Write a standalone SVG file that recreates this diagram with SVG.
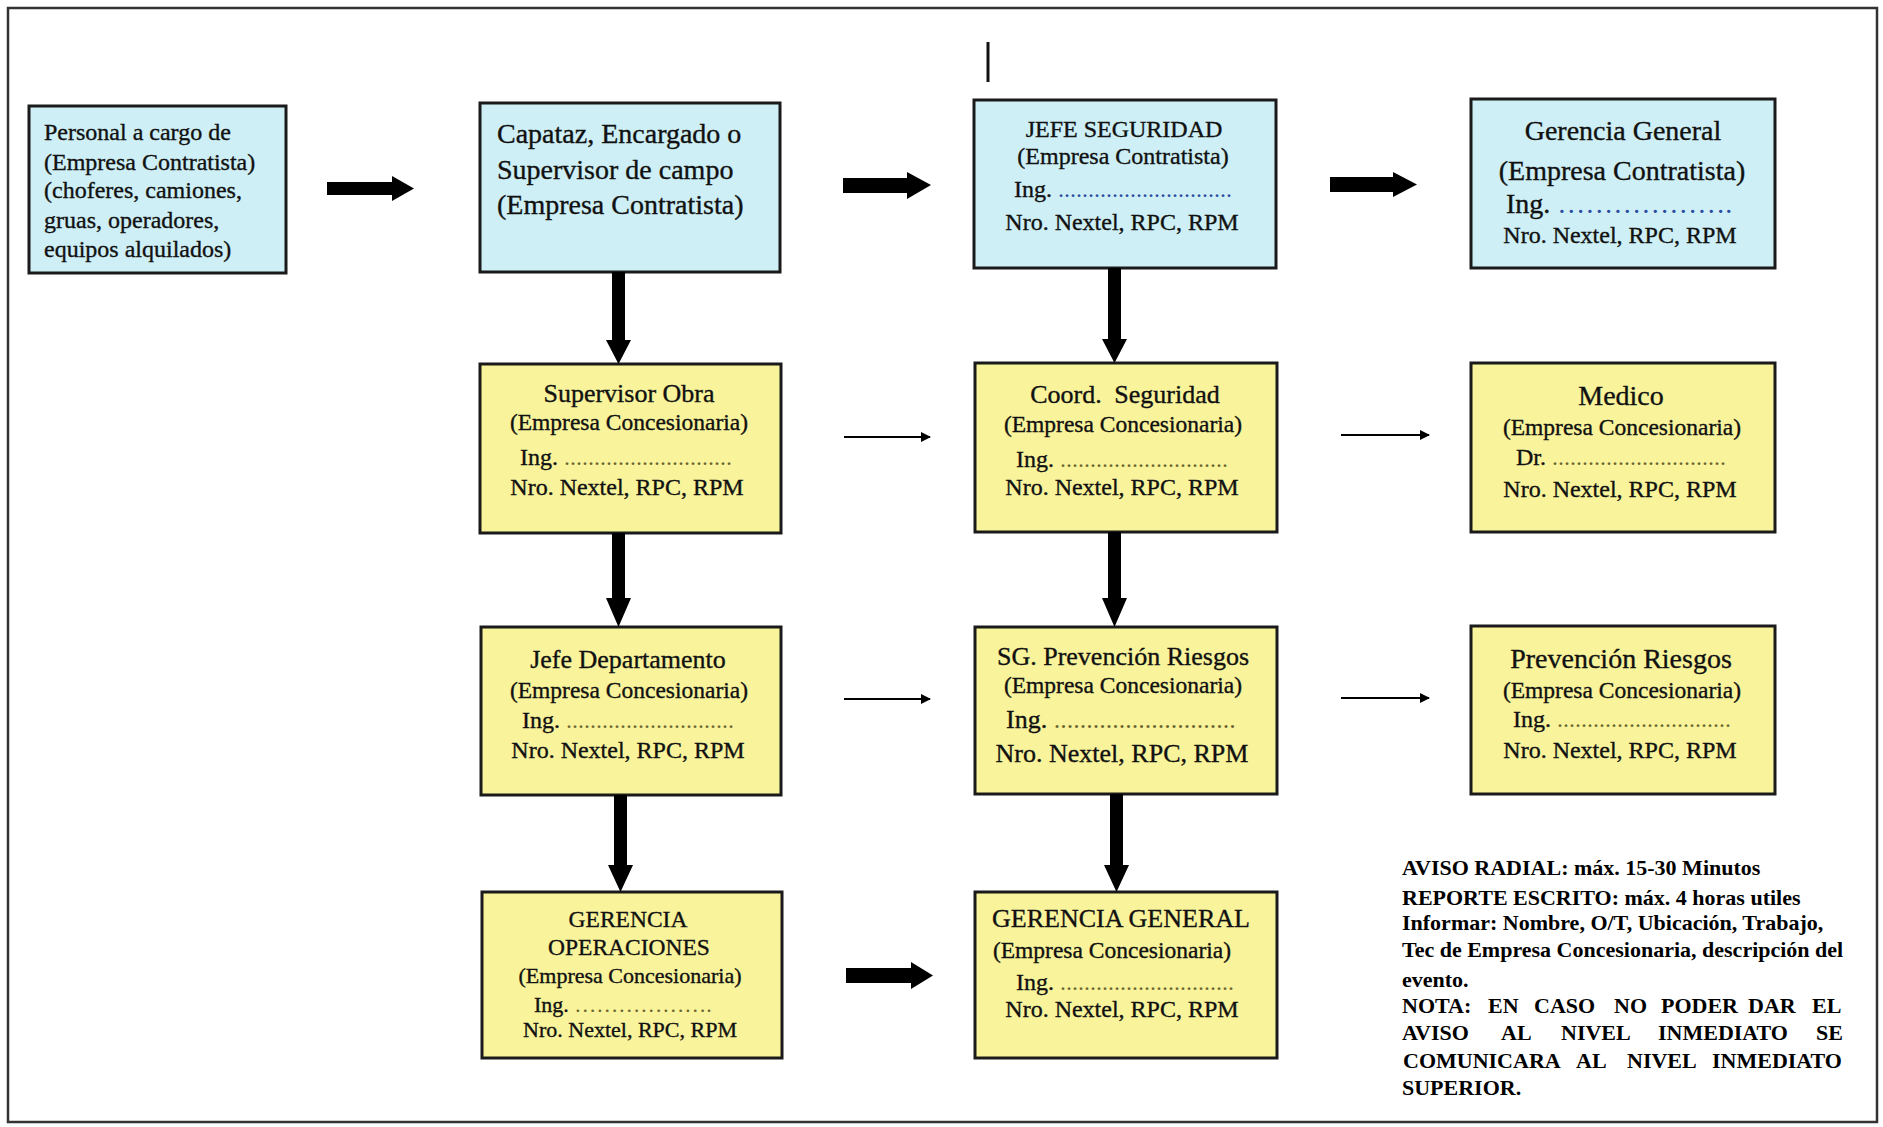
<svg xmlns="http://www.w3.org/2000/svg" width="1883" height="1127" viewBox="0 0 1883 1127">
<defs>
<marker id="thin" viewBox="0 0 10 10" refX="9" refY="5" markerWidth="10" markerHeight="10" markerUnits="userSpaceOnUse" orient="auto">
<path d="M0,0 L10,5 L0,10 Z" fill="#000"/>
</marker>
<style>
.frame{fill:#fff;stroke:#333;stroke-width:2.5}
.blue{fill:#cdeff5;stroke:#1a1a1a;stroke-width:3}
.yel{fill:#f9f49b;stroke:#1a1a1a;stroke-width:3}
text{font-family:"Liberation Serif","Times New Roman",serif;fill:#111;stroke:#111;stroke-width:0.35}
.c{text-anchor:middle}
.s24{font-size:24px}
.s23{font-size:23.5px}
.s26{font-size:26px}
.s28{font-size:28px}
.s22{font-size:22px}
.note{font-size:22px;font-weight:bold;fill:#000;stroke:none}
.db{fill:#2a4aa0;stroke:none}
.dy{fill:#6b6530;stroke:none}
.thick{fill:#000}
.tl{stroke:#000;stroke-width:2;fill:none}
</style>
</defs>
<rect class="frame" x="8" y="8" width="1869" height="1114"/>
<line x1="988" y1="42" x2="988" y2="82" stroke="#111" stroke-width="3"/>

<g id="n-personal">
<rect class="blue" x="29" y="106" width="257" height="167"/>
<text class="s24" x="44" y="140">Personal a cargo de</text>
<text class="s24" x="44" y="170">(Empresa Contratista)</text>
<text class="s24" x="44" y="198">(choferes, camiones,</text>
<text class="s24" x="44" y="228">gruas, operadores,</text>
<text class="s24" x="44" y="257">equipos alquilados)</text>
</g>

<g id="n-capataz">
<rect class="blue" x="480" y="103" width="300" height="169"/>
<text class="s28" x="497" y="143">Capataz, Encargado o</text>
<text class="s28" x="497" y="179">Supervisor de campo</text>
<text class="s28" x="497" y="214">(Empresa Contratista)</text>
</g>

<g id="n-jefe-seguridad">
<rect class="blue" x="974" y="100" width="302" height="168"/>
<text class="s24 c" x="1124" y="137">JEFE SEGURIDAD</text>
<text class="s24 c" x="1123" y="164">(Empresa Contratista)</text>
<text class="s24" x="1014" y="197">Ing. <tspan class="db">.............................</tspan></text>
<text class="s24 c" x="1122" y="230">Nro. Nextel, RPC, RPM</text>
</g>

<g id="n-gerencia-general-contratista">
<rect class="blue" x="1471" y="99" width="304" height="169"/>
<text class="s28 c" x="1623" y="140">Gerencia General</text>
<text class="s28 c" x="1622" y="180">(Empresa Contratista)</text>
<text class="s28" x="1506" y="213">Ing. <tspan class="db">……………….</tspan></text>
<text class="s24 c" x="1620" y="243">Nro. Nextel, RPC, RPM</text>
</g>

<g id="n-supervisor-obra">
<rect class="yel" x="480" y="364" width="301" height="169"/>
<text class="s26 c" x="629" y="402">Supervisor Obra</text>
<text class="s23 c" x="629" y="430">(Empresa Concesionaria)</text>
<text class="s24" x="520" y="465">Ing. <tspan class="dy">............................</tspan></text>
<text class="s24 c" x="627" y="495">Nro. Nextel, RPC, RPM</text>
</g>

<g id="n-coord-seguridad">
<rect class="yel" x="975" y="363" width="302" height="169"/>
<text class="s26 c" x="1125" y="403" style="word-spacing:6px">Coord. Seguridad</text>
<text class="s23 c" x="1123" y="432">(Empresa Concesionaria)</text>
<text class="s24" x="1016" y="467">Ing. <tspan class="dy">............................</tspan></text>
<text class="s24 c" x="1122" y="495">Nro. Nextel, RPC, RPM</text>
</g>

<g id="n-medico">
<rect class="yel" x="1471" y="363" width="304" height="169"/>
<text class="s28 c" x="1621" y="405">Medico</text>
<text class="s23 c" x="1622" y="435">(Empresa Concesionaria)</text>
<text class="s24" x="1516" y="465">Dr. <tspan class="dy">.............................</tspan></text>
<text class="s24 c" x="1620" y="497">Nro. Nextel, RPC, RPM</text>
</g>

<g id="n-jefe-departamento">
<rect class="yel" x="481" y="627" width="300" height="168"/>
<text class="s26 c" x="628" y="668">Jefe Departamento</text>
<text class="s23 c" x="629" y="698">(Empresa Concesionaria)</text>
<text class="s24" x="522" y="728">Ing. <tspan class="dy">............................</tspan></text>
<text class="s24 c" x="628" y="758">Nro. Nextel, RPC, RPM</text>
</g>

<g id="n-sg-prevencion">
<rect class="yel" x="975" y="627" width="302" height="167"/>
<text class="s26 c" x="1123" y="665">SG. Prevención Riesgos</text>
<text class="s23 c" x="1123" y="693">(Empresa Concesionaria)</text>
<text class="s26" x="1006" y="728">Ing. <tspan class="dy">............................</tspan></text>
<text class="s26 c" x="1122" y="762">Nro. Nextel, RPC, RPM</text>
</g>

<g id="n-prevencion-riesgos">
<rect class="yel" x="1471" y="626" width="304" height="168"/>
<text class="s28 c" x="1621" y="668">Prevención Riesgos</text>
<text class="s23 c" x="1622" y="698">(Empresa Concesionaria)</text>
<text class="s24" x="1513" y="727">Ing. <tspan class="dy">.............................</tspan></text>
<text class="s24 c" x="1620" y="758">Nro. Nextel, RPC, RPM</text>
</g>

<g id="n-gerencia-operaciones">
<rect class="yel" x="482" y="892" width="300" height="166"/>
<text class="s23 c" x="628" y="927">GERENCIA</text>
<text class="s23 c" x="629" y="955">OPERACIONES</text>
<text class="s22 c" x="630" y="983">(Empresa Concesionaria)</text>
<text class="s22" x="534" y="1012">Ing. <tspan class="dy">……………….</tspan></text>
<text class="s22 c" x="630" y="1037">Nro. Nextel, RPC, RPM</text>
</g>

<g id="n-gerencia-general-concesionaria">
<rect class="yel" x="975" y="892" width="302" height="166"/>
<text class="s26 c" x="1121" y="927">GERENCIA GENERAL</text>
<text class="s23 c" x="1112" y="958">(Empresa Concesionaria)</text>
<text class="s24" x="1016" y="990">Ing. <tspan class="dy">.............................</tspan></text>
<text class="s24 c" x="1122" y="1017">Nro. Nextel, RPC, RPM</text>
</g>

<g id="connectors">
<path class="thick" d="M327,182 H392 V176 L414,188.5 L392,201 V195 H327 Z"/>
<path class="thick" d="M843,178 H907 V172 L931,185 L907,199 V193 H843 Z"/>
<path class="thick" d="M1330,177 H1393 V172 L1417,184.5 L1393,197 V192 H1330 Z"/>
<path class="thick" d="M846,968 H911 V962 L933,975.5 L911,989 V983 H846 Z"/>
<path class="thick" d="M612,272 H625 V340 H631 L618.5,364 L606,340 H612 Z"/>
<path class="thick" d="M1108,268 H1121 V339 H1127 L1114.5,363 L1102,339 H1108 Z"/>
<path class="thick" d="M612,533 H625 V598 H631 L618.5,627 L606,598 H612 Z"/>
<path class="thick" d="M1108,532 H1121 V598 H1127 L1114.5,627 L1102,598 H1108 Z"/>
<path class="thick" d="M614,795 H627 V865 H633 L620.5,892 L608,865 H614 Z"/>
<path class="thick" d="M1110,794 H1123 V865 H1129 L1116.5,892 L1104,865 H1110 Z"/>
<line class="tl" x1="844" y1="437" x2="930" y2="437" marker-end="url(#thin)"/>
<line class="tl" x1="1341" y1="435" x2="1429" y2="435" marker-end="url(#thin)"/>
<line class="tl" x1="844" y1="699" x2="930" y2="699" marker-end="url(#thin)"/>
<line class="tl" x1="1341" y1="698" x2="1429" y2="698" marker-end="url(#thin)"/>
</g>

<g id="nota">
<text class="note" x="1402" y="875">AVISO RADIAL: máx. 15-30 Minutos</text>
<text class="note" x="1402" y="905">REPORTE ESCRITO: máx. 4 horas utiles</text>
<text class="note" x="1402" y="930">Informar: Nombre, O/T, Ubicación, Trabajo,</text>
<text class="note" x="1402" y="957">Tec de Empresa Concesionaria, descripción del</text>
<text class="note" x="1402" y="987">evento.</text>
<text class="note" y="1013"><tspan x="1402">NOTA:</tspan> <tspan x="1488">EN</tspan> <tspan x="1534">CASO</tspan> <tspan x="1614">NO</tspan> <tspan x="1661">PODER</tspan> <tspan x="1748">DAR</tspan> <tspan x="1812">EL</tspan></text>
<text class="note" y="1040"><tspan x="1402">AVISO</tspan> <tspan x="1501">AL</tspan> <tspan x="1561">NIVEL</tspan> <tspan x="1658">INMEDIATO</tspan> <tspan x="1816">SE</tspan></text>
<text class="note" y="1068"><tspan x="1403">COMUNICARA</tspan> <tspan x="1576">AL</tspan> <tspan x="1627">NIVEL</tspan> <tspan x="1712">INMEDIATO</tspan></text>
<text class="note" x="1402" y="1095">SUPERIOR.</text>
</g>
</svg>
